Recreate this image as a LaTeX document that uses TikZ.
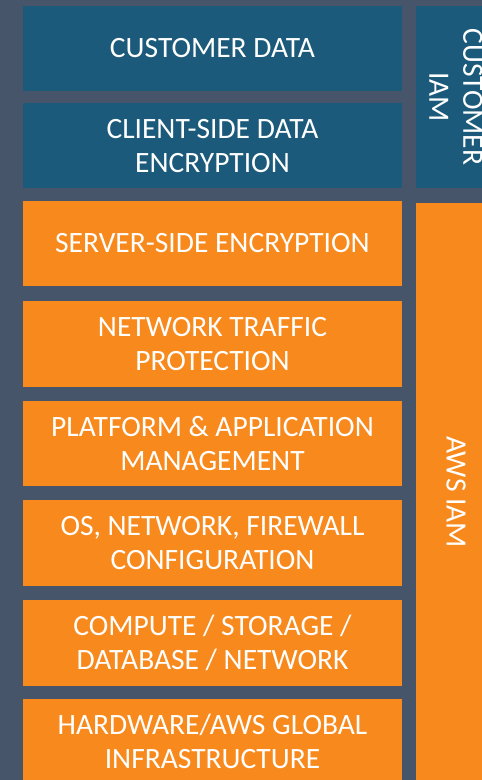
\documentclass[tikz,border=0pt]{standalone}
\usepackage{fontspec}
\setmainfont{Carlito}
\definecolor{bgslate}{HTML}{465569}
\definecolor{custblue}{HTML}{1B5A7A}
\definecolor{awsorange}{HTML}{F8891C}
\begin{document}
\begin{tikzpicture}[x=1pt,y=-1pt,
  lbl/.style={text=white, align=center, font=\fontsize{29.5}{34}\selectfont, inner sep=0pt},
  vlbl/.style={text=white, align=center, font=\fontsize{29.5}{34}\selectfont, inner sep=0pt, rotate=-90}]
\fill[bgslate] (0,0) rectangle (482,780);
\useasboundingbox (0,0) rectangle (482,780);
% left layers
\fill[custblue] (23,6) rectangle (402,90.5);
\node[lbl] (cd) at (212.5,48.2) {CUSTOMER DATA};
\fill[custblue] (23,103) rectangle (402,188.3);
\node[lbl] (cse) at (212.5,145.6) {CLIENT-SIDE DATA\\ENCRYPTION};
\fill[awsorange] (23,201) rectangle (402,285.7);
\node[lbl] (sse) at (212.5,243.3) {SERVER-SIDE ENCRYPTION};
\fill[awsorange] (23,301.3) rectangle (402,387);
\node[lbl] (ntp) at (212.5,344.1) {NETWORK TRAFFIC\\PROTECTION};
\fill[awsorange] (23,400.7) rectangle (402,486);
\node[lbl] (pam) at (212.5,443.3) {PLATFORM \& APPLICATION\\MANAGEMENT};
\fill[awsorange] (23,500.3) rectangle (402,586);
\node[lbl] (onf) at (212.5,543.1) {OS, NETWORK, FIREWALL\\CONFIGURATION};
\fill[awsorange] (23,600) rectangle (402,686);
\node[lbl] (csd) at (212.5,643) {COMPUTE / STORAGE /\\DATABASE / NETWORK};
\fill[awsorange] (23,699) rectangle (402,790);
\node[lbl] (hw) at (212.5,741) {HARDWARE/AWS GLOBAL\\INFRASTRUCTURE};
% right columns
\fill[custblue] (416,6) rectangle (490,188.3);
\node[vlbl] (ciam) at (456,97) {CUSTOMER\\IAM};
\fill[awsorange] (416,202.7) rectangle (490,790);
\node[vlbl] (aiam) at (456,492) {AWS IAM};
\end{tikzpicture}
\end{document}
